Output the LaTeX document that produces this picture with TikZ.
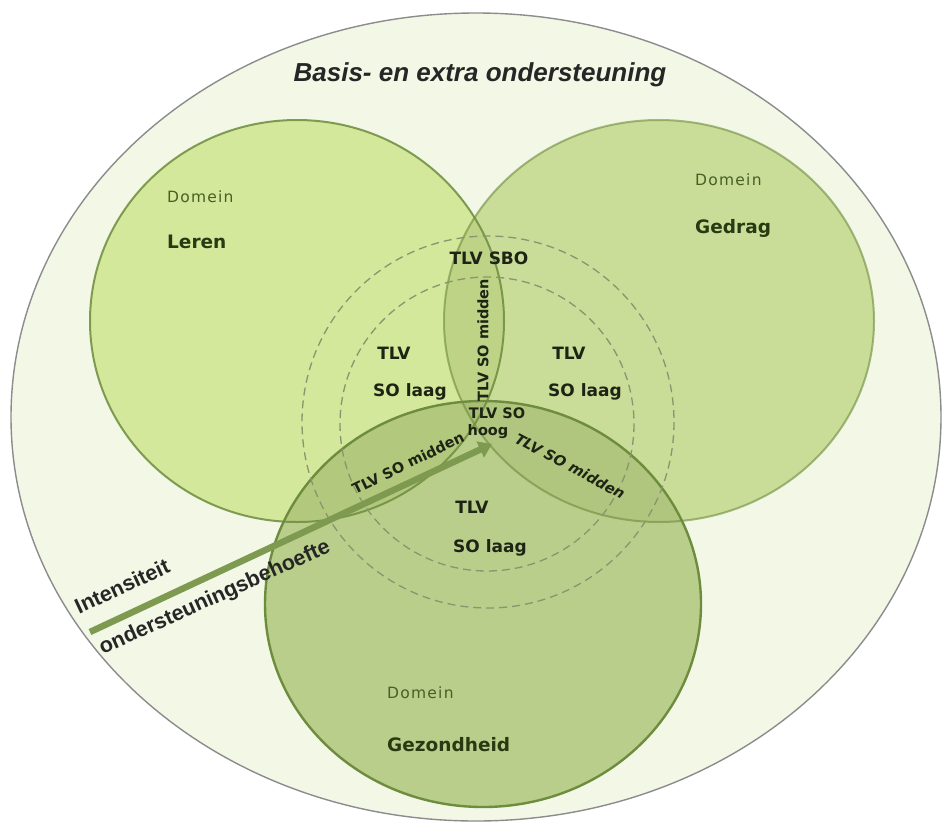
\documentclass[tikz,border=0pt]{standalone}
\usepackage{fontspec}
\setmainfont{DejaVu Sans}
\newfontfamily\arialf{Liberation Sans}
\usetikzlibrary{arrows.meta}
\definecolor{bgout}{RGB}{242,247,230}
\definecolor{colL}{RGB}{211,232,154}
\definecolor{colG}{RGB}{201,220,152}
\definecolor{colZ}{RGB}{186,206,140}
\definecolor{colLG}{RGB}{190,211,134}
\definecolor{colLZ}{RGB}{178,200,124}
\definecolor{colGZ}{RGB}{176,197,126}
\definecolor{colAll}{RGB}{168,190,116}
\definecolor{rim}{RGB}{110,140,62}
\definecolor{dashc}{RGB}{135,150,110}
\definecolor{arrowc}{RGB}{125,154,80}
\definecolor{domc}{RGB}{70,95,36}
\definecolor{labc}{RGB}{40,58,18}
\definecolor{tlvc}{RGB}{30,36,20}
\tikzset{
  rimline/.style={draw=rim, line width=2pt},
  dashring/.style={draw=dashc, line width=1.3pt, dash pattern=on 8pt off 5pt},
  domtext/.style={text=domc, font=\fontsize{15.5}{17}\selectfont\addfontfeature{LetterSpace=8}, anchor=west, inner sep=0pt},
  domname/.style={text=labc, font=\fontsize{18.5}{20}\selectfont\bfseries, anchor=west, inner sep=0pt},
  tlv/.style={text=tlvc, font=\fontsize{17}{19}\selectfont\bfseries, inner sep=0pt},
  tlvs/.style={text=tlvc, font=\fontsize{14.5}{16}\selectfont\bfseries, inner sep=0pt},
  sidetext/.style={text=black!85, font=\arialf\fontsize{21.5}{23}\selectfont\bfseries, inner sep=0pt}
}
\begin{document}
\begin{tikzpicture}[x=1pt,y=-1pt]
\useasboundingbox (0,0) rectangle (944,825);
% outer ellipse
\filldraw[fill=bgout, draw=black!45, line width=1.4pt] (476,417) ellipse [x radius=465, y radius=404];
\node[font=\arialf\fontsize{26}{28}\selectfont\bfseries\itshape, text=black!85] (title) at (480,75) {Basis- en extra ondersteuning};
% domain circles
\def\lerenC{(297,321) ellipse [x radius=207, y radius=201]}
\def\gedragC{(659,321) ellipse [x radius=215, y radius=201]}
\def\gezC{(483,604) ellipse [x radius=218, y radius=203]}
\fill[colL] \lerenC;
\fill[colG] \gedragC;
\fill[colZ] \gezC;
\begin{scope}\clip \lerenC; \fill[colLG] \gedragC; \end{scope}
\begin{scope}\clip \lerenC; \fill[colLZ] \gezC; \end{scope}
\begin{scope}\clip \gedragC; \fill[colGZ] \gezC; \end{scope}
\begin{scope}\clip \lerenC; \clip \gedragC; \fill[colAll] \gezC; \end{scope}
\draw[rimline, draw opacity=0.85] \lerenC;
\draw[rimline, draw opacity=0.6] \gedragC;
\draw[rimline, line width=2.4pt] \gezC;
% dashed rings
\draw[dashring] (488,422) circle [radius=186];
\draw[dashring] (487,424) circle [radius=147];
% domain labels
\node[domtext] (d1) at (167,197) {Domein};
\node[domname] (n1) at (167,242) {Leren};
\node[domtext] (d2) at (695,180) {Domein};
\node[domname] (n2) at (695,228) {Gedrag};
\node[domtext] (d3) at (387,693) {Domein};
\node[domname] (n3) at (387,745) {Gezondheid};
% TLV labels
\node[tlv] (sbo) at (489,258) {TLV SBO};
\node[tlv] (t1) at (394,353) {TLV};
\node[tlv] (s1) at (410,392) {SO laag};
\node[tlv] (t2) at (569,353) {TLV};
\node[tlv] (s2) at (585,392) {SO laag};
\node[tlvs, rotate=90] (mv) at (483,340) {TLV SO midden};
\node[tlvs] (h1) at (497,413) {TLV SO};
\node[tlvs] (h2) at (488,432) {hoog};
\node[tlvs, rotate=26] (ml) at (408,463) {TLV SO midden};
\node[tlvs, rotate=-28, font=\fontsize{14.5}{16}\selectfont\bfseries\itshape] (mr) at (570,466) {TLV SO midden};
\node[tlv] (t3) at (472,507) {TLV};
\node[tlv] (s3) at (490,548) {SO laag};
% arrow
\coordinate (astart) at (90,632);
\coordinate (aend) at (492,444);
\draw[arrowc, line width=6.5pt, -{Triangle[length=13pt,width=17pt]}] (astart) -- (aend);
\node[sidetext, rotate=25] (int) at (122,586) {Intensiteit};
\node[sidetext, rotate=24.3] (ond) at (215,598) {ondersteuningsbehoefte};
\end{tikzpicture}
\end{document}
